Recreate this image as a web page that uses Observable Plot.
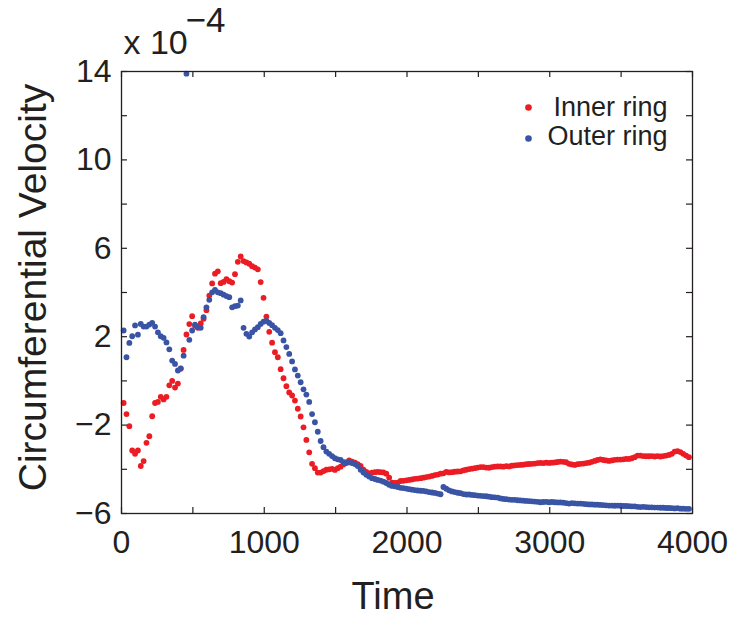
<!DOCTYPE html>
<html>
<head>
<meta charset="utf-8">
<script src="https://cdn.jsdelivr.net/npm/d3@7"></script>
<script src="https://cdn.jsdelivr.net/npm/@observablehq/plot@0.6"></script>
<style>
  html, body { margin: 0; padding: 0; background: #fff; }
  #chart svg { display: block; }
</style>
</head>
<body>
<div id="chart"></div>
<script>
// Sample times (evenly spaced samples, first at 15, step 20)
const timeStart = 15, timeStep = 20, sampleCount = 199;
const times = d3.range(sampleCount).map(i => timeStart + i * timeStep);

// Inner ring circumferential velocity (x 1e-4)
const innerRing = [
  -1.0, -1.5, -2.05, -3.15, -3.3, -3.15, -3.85, -3.63, -2.8, -2.5,
  -1.6, -1.0, -0.95, -0.72, -0.84, -0.72, -0.2, 0.0, -0.3, -0.12,
  0.55, 1.4, 2.1, 2.57, 2.93, 2.5, 2.4, 2.6, 2.81, 3.2,
  3.86, 4.41, 4.85, 4.96, 4.42, 4.48, 4.6, 4.51, 4.45, 4.83,
  5.39, 5.63, 5.42, 5.36, 5.3, 5.19, 5.13, 5.05, 4.47, 3.76,
  2.91, 2.22, 1.73, 1.3, 1.07, 0.53, 0.12, -0.24, -0.52, -0.66,
  -0.89, -1.26, -1.61, -2.1, -2.67, -3.23, -3.75, -3.95, -4.15, -4.15,
  -4.08, -4.02, -4.0, -3.98, -4.03, -3.95, -3.88, -3.78, -3.68, -3.6,
  -3.65, -3.7, -3.77, -3.85, -4.02, -4.12, -4.18, -4.15, -4.13, -4.12,
  -4.13, -4.14, -4.2, -4.38, -4.6, -4.62, -4.6, -4.53, -4.52, -4.5,
  -4.48, -4.46, -4.43, -4.42, -4.4, -4.38, -4.35, -4.33, -4.3, -4.26,
  -4.24, -4.2, -4.18, -4.12, -4.14, -4.13, -4.11, -4.1, -4.09, -4.05,
  -4.02, -3.99, -3.97, -3.95, -3.92, -3.9, -3.9, -3.92, -3.93, -3.9,
  -3.88, -3.87, -3.87, -3.88, -3.86, -3.87, -3.84, -3.82, -3.81, -3.8,
  -3.79, -3.77, -3.76, -3.75, -3.74, -3.72, -3.71, -3.72, -3.7, -3.71,
  -3.7, -3.69, -3.67, -3.65, -3.66, -3.68, -3.75, -3.78, -3.8, -3.77,
  -3.75, -3.74, -3.72, -3.7, -3.66, -3.62, -3.58, -3.55, -3.58, -3.6,
  -3.62, -3.6, -3.57, -3.56, -3.56, -3.55, -3.53, -3.53, -3.5, -3.45,
  -3.38, -3.38, -3.4, -3.41, -3.41, -3.4, -3.42, -3.4, -3.42, -3.4,
  -3.38, -3.35, -3.3, -3.2, -3.18, -3.22, -3.3, -3.38, -3.45
];

// Outer ring circumferential velocity (x 1e-4)
const outerRing = [
  2.28, 1.07, 1.72, 2.02, 2.51, 2.09, 2.58, 2.46, 2.46, 2.55,
  2.63, 2.46, 2.2, 2.02, 1.95, 1.74, 1.43, 0.92, 0.77, 0.47,
  0.57, 1.14, 13.9, 1.86, 2.28, 2.55, 2.43, 2.4, 2.88, 3.33,
  3.67, 4.01, 4.12, 4.01, 3.97, 3.9, 3.84, 3.79, 3.33, 3.38,
  3.41, 3.64, 2.4, 2.13, 2.01, 2.2, 2.33, 2.43, 2.58, 2.68,
  2.72, 2.62, 2.52, 2.4, 2.3, 2.16, 1.83, 1.53, 1.22, 0.88,
  0.52, 0.24, -0.06, -0.38, -0.62, -0.95, -1.5, -1.87, -2.3, -2.72,
  -3.0, -3.2, -3.3, -3.4, -3.5, -3.55, -3.58, -3.68, -3.72, -3.68,
  -3.72, -3.76, -3.85, -4.02, -4.15, -4.25, -4.33, -4.4, -4.44, -4.48,
  -4.51, -4.56, -4.62, -4.7, -4.75, -4.77, -4.8, -4.84, -4.85, -4.87,
  -4.9, -4.92, -4.94, -4.96, -4.97, -4.98, -5.0, -5.03, -5.05, -5.07,
  -5.1, -5.13, -4.8, -4.88, -4.95, -5.0, -5.03, -5.06, -5.08, -5.12,
  -5.14, -5.14, -5.16, -5.17, -5.19, -5.2, -5.21, -5.22, -5.24, -5.26,
  -5.27, -5.28, -5.32, -5.34, -5.35, -5.37, -5.38, -5.38, -5.4, -5.41,
  -5.42, -5.43, -5.44, -5.45, -5.46, -5.47, -5.49, -5.48, -5.47, -5.49,
  -5.48, -5.49, -5.5, -5.5, -5.51, -5.53, -5.55, -5.53, -5.54, -5.55,
  -5.55, -5.56, -5.58, -5.59, -5.59, -5.6, -5.6, -5.61, -5.62, -5.63,
  -5.64, -5.64, -5.65, -5.64, -5.65, -5.66, -5.66, -5.67, -5.68, -5.68,
  -5.7, -5.71, -5.7, -5.71, -5.72, -5.72, -5.73, -5.73, -5.74, -5.74,
  -5.75, -5.75, -5.76, -5.77, -5.76, -5.78, -5.78, -5.79, -5.79
];

// Axis ticks and labels
const xTicks = [0, 500, 1000, 1500, 2000, 2500, 3000, 3500, 4000];
const xTickLabels = [0, 1000, 2000, 3000, 4000];
const yTicks = [-6, -4, -2, 0, 2, 4, 6, 8, 10, 12, 14];
const yTickLabels = [-6, -2, 2, 6, 10, 14];

const seriesNames = ["Inner ring", "Outer ring"];
const seriesColors = ["#ec1c24", "#3a54a5"];

const innerData = times.map((t, i) => ({t, v: innerRing[i]}));
const outerData = times.map((t, i) => ({t, v: outerRing[i]}));

const W = 739, H = 617;
const mTop = 71, mLeft = 121, mRight = 47, mBottom = 104;
const plotW = W - mLeft - mRight, plotH = H - mTop - mBottom;
const tickLen = 6;
const axisColor = "#231f20";
const font = "'Liberation Sans', Arial, Helvetica, sans-serif";

const chart = Plot.plot({
  width: W,
  height: H,
  marginTop: mTop,
  marginLeft: mLeft,
  marginRight: mRight,
  marginBottom: mBottom,
  style: {fontFamily: font, color: "#231f20", background: "#fff", overflow: "visible"},
  x: {domain: [0, 4000], label: null},
  y: {domain: [-6, 14], label: null},
  marks: [
    // data
    Plot.dot(innerData, {x: "t", y: "v", r: 2.9, fill: seriesColors[0], stroke: "none"}),
    Plot.dot(outerData, {x: "t", y: "v", r: 2.9, fill: seriesColors[1], stroke: "none"}),
    // frame and inward ticks
    Plot.frame({stroke: axisColor, strokeWidth: 1.3}),
    Plot.tickX(xTicks, {x: d => d, insetTop: plotH - tickLen, stroke: axisColor, strokeWidth: 1.2}),
    Plot.tickX(xTicks, {x: d => d, insetBottom: plotH - tickLen, stroke: axisColor, strokeWidth: 1.2}),
    Plot.tickY(yTicks, {y: d => d, insetRight: plotW - tickLen, stroke: axisColor, strokeWidth: 1.2}),
    Plot.tickY(yTicks, {y: d => d, insetLeft: plotW - tickLen, stroke: axisColor, strokeWidth: 1.2}),
    // tick labels
    Plot.axisX(xTickLabels, {tickSize: 0, tickPadding: 17, fontSize: 32, label: null, tickFormat: d => String(d)}),
    Plot.axisY(yTickLabels, {tickSize: 0, tickPadding: 10, fontSize: 32, label: null}),
    // axis titles
    Plot.text(["Time"], {frameAnchor: "bottom", dx: -14, dy: 95, textAnchor: "middle", fontSize: 38, fill: axisColor}),
    Plot.text(["Circumferential Velocity"], {frameAnchor: "left", dx: -88, dy: -5, rotate: -90, textAnchor: "middle", fontSize: 39, fill: axisColor}),
    // exponent
    Plot.text(["x 10"], {frameAnchor: "top-left", dx: 2, dy: -42, textAnchor: "start", fontSize: 34, fill: axisColor}),
    Plot.text(["\u22124"], {frameAnchor: "top-left", dx: 64, dy: -64, textAnchor: "start", fontSize: 35, fill: axisColor}),
    // legend
    Plot.dot([0], {frameAnchor: "top-right", dx: -164, dy: 36, r: 3.3, fill: seriesColors[0], stroke: "none"}),
    Plot.dot([0], {frameAnchor: "top-right", dx: -164, dy: 67, r: 3.3, fill: seriesColors[1], stroke: "none"}),
    Plot.text([seriesNames[0]], {frameAnchor: "top-right", dx: -25, dy: 25, textAnchor: "end", fontSize: 27, fill: axisColor}),
    Plot.text([seriesNames[1]], {frameAnchor: "top-right", dx: -25, dy: 54, textAnchor: "end", fontSize: 27, fill: axisColor})
  ]
});

document.getElementById("chart").appendChild(chart);
</script>
</body>
</html>
